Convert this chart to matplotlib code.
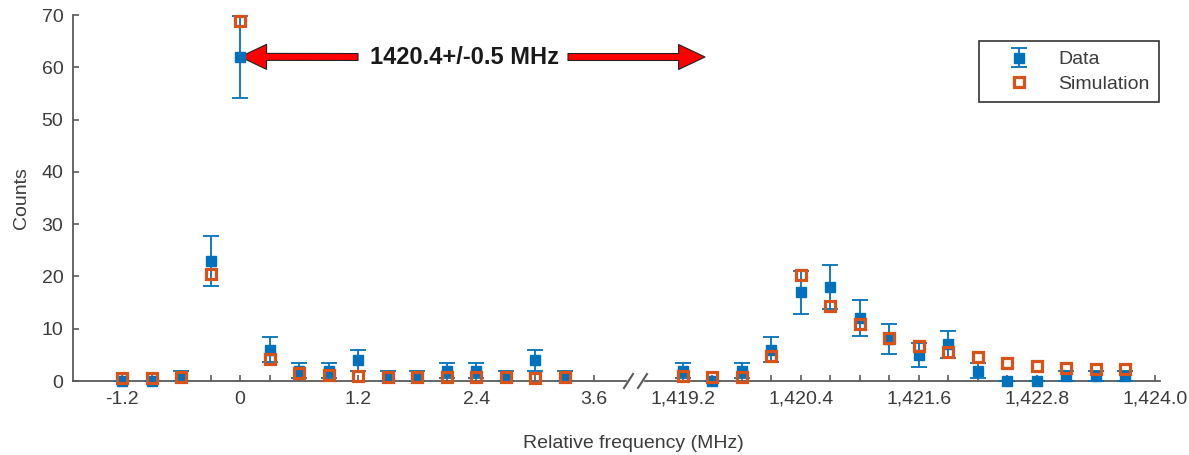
import numpy as np
import matplotlib.pyplot as plt
from matplotlib.lines import Line2D
from matplotlib.patches import FancyArrowPatch
from matplotlib.ticker import FixedLocator

plt.rcParams['font.family'] = ['Liberation Sans', 'DejaVu Sans']
plt.rcParams['font.size'] = 14

# frequency bins (MHz): low band near 0 and the 1420 MHz band
freq_lo = [-1.2, -0.9, -0.6, -0.3, 0.0, 0.3, 0.6, 0.9, 1.2, 1.5, 1.8, 2.1, 2.4, 2.7, 3.0, 3.3]
freq_hi = [1419.2, 1419.5, 1419.8, 1420.1, 1420.4, 1420.7, 1421.0, 1421.3,
           1421.6, 1421.9, 1422.2, 1422.5, 1422.8, 1423.1, 1423.4, 1423.7]

counts_lo = [0, 0, 1, 23, 62, 6, 2, 2, 4, 1, 1, 2, 2, 1, 4, 1]
err_lo = [0, 0, 1, 4.8, 7.9, 2.45, 1.41, 1.41, 2, 1, 1, 1.41, 1.41, 1, 2, 1]
sim_lo = [0.6, 0.6, 0.8, 20.5, 68.8, 4.2, 1.6, 1.1, 0.9, 0.8, 0.8, 0.8, 0.8, 0.7, 0.6, 0.8]

counts_hi = [2, 0, 2, 6, 17, 18, 12, 8, 5, 7, 2, 0, 0, 1, 1, 1]
err_hi = [1.41, 0, 1.41, 2.45, 4.12, 4.24, 3.46, 2.83, 2.24, 2.65, 1.41, 0, 0, 1, 1, 1]
sim_hi = [0.9, 0.8, 0.8, 4.8, 20.3, 14.4, 10.9, 8.3, 6.7, 5.5, 4.5, 3.5, 2.9, 2.5, 2.3, 2.2]

major_lo = [-1.2, 0, 1.2, 2.4, 3.6]
labels_lo = ['-1.2', '0', '1.2', '2.4', '3.6']
major_hi = [1419.2, 1420.4, 1421.6, 1422.8, 1424.0]
labels_hi = ['1,419.2', '1,420.4', '1,421.6', '1,422.8', '1,424.0']
minor_lo = [-1.2, -0.9, -0.6, -0.3, 0, 0.3, 0.6, 0.9, 1.2, 1.5, 1.8, 2.1, 2.4, 2.7, 3.0, 3.3, 3.6]
minor_hi = [1419.2, 1419.5, 1419.8, 1420.1, 1420.4, 1420.7, 1421.0, 1421.3, 1421.6,
            1421.9, 1422.2, 1422.5, 1422.8, 1423.1, 1423.4, 1423.7, 1424.0]
yticks = [0, 10, 20, 30, 40, 50, 60, 70]

BLUE = '#0072BD'
ORANGE = '#D95319'
AXC = '#5a5a5a'
TXT = '#3c3c3c'

W, H = 1189, 455
fig = plt.figure(figsize=(W / 100, H / 100), dpi=100)

def px(x0, x1):
    return x0 / W, (x1 - x0) / W

l1, w1 = px(73, 626)
l2, w2 = px(645, 1160)
bot, hgt = (H - 381) / H, 366 / H
ax1 = fig.add_axes([l1, bot, w1, hgt])
ax2 = fig.add_axes([l2, bot, w2, hgt], sharey=ax1)

def draw(ax, f, c, e, s):
    eb = ax.errorbar(f, c, yerr=e, fmt='s', color=BLUE, ms=6.8, mec=BLUE,
                     elinewidth=1.3, capsize=5.5, capthick=1.3, zorder=3, label='Data')
    eb.lines[0].set_clip_on(False)
    for art in list(eb.lines[1]) + list(eb.lines[2]):
        art.set_clip_on(False)
    sm, = ax.plot(f, s, 's', ms=6.8, mfc='none', mec=ORANGE, mew=2.3,
                  zorder=4, clip_on=False, label='Simulation')
    return eb, sm

eb, sm = draw(ax1, freq_lo, counts_lo, err_lo, sim_lo)
draw(ax2, freq_hi, counts_hi, err_hi, sim_hi)

ax1.set_xlim(-1.7, -1.7 + 553 / 98.33)
ax2.set_xlim(1419.2 - 38 / 98.33, 1419.2 - 38 / 98.33 + 515 / 98.33)
ax1.set_ylim(0, 70)

for ax, maj, lab, mnr in [(ax1, major_lo, labels_lo, minor_lo), (ax2, major_hi, labels_hi, minor_hi)]:
    for side in ['top', 'right', 'left']:
        ax.spines[side].set_visible(False)
    ax.spines['bottom'].set_color(AXC)
    ax.spines['bottom'].set_linewidth(1.3)
    ax.set_xticks(maj)
    ax.set_xticklabels(lab)
    ax.xaxis.set_minor_locator(FixedLocator(mnr))
    ax.tick_params(axis='x', which='both', direction='in', length=4, width=1.2,
                   color=AXC, labelcolor=TXT, pad=7)
    ax.set_facecolor('none')

ax1.spines['left'].set_visible(True)
ax1.spines['left'].set_color(AXC)
ax1.spines['left'].set_linewidth(1.3)
ax1.set_yticks(yticks)
ax1.tick_params(axis='y', direction='in', length=4, width=1.2, color=AXC,
                labelcolor=TXT, pad=7)
ax2.tick_params(axis='y', left=False, labelleft=False)
ax1.set_ylabel('Counts', color=TXT, labelpad=8)

fig.text(633 / W, 1 - 444 / H, 'Relative frequency (MHz)', ha='center', va='center',
         color=TXT)

# axis break marks
for x0 in (624, 638):
    fig.add_artist(Line2D([x0 / W, (x0 + 9) / W], [1 - 388 / H, 1 - 374 / H],
                          color=AXC, lw=1.5))

# band annotation
fig.text(465 / W, 1 - 57 / H, '1420.4+/-0.5 MHz', ha='center', va='center',
         fontsize=17, fontweight='bold', color='#1a1a1a')
arrow = dict(arrowstyle='simple,head_length=19,head_width=18,tail_width=5',
             mutation_scale=1, fc='#ff0000', ec='#222222', lw=0.8,
             shrinkA=0, shrinkB=0)
ax1.annotate('', xy=(0, 62), xycoords='data', xytext=(358, H - 57),
             textcoords='figure pixels', arrowprops=arrow, annotation_clip=False)
fig.add_artist(FancyArrowPatch((568 / W, 1 - 57 / H), (705 / W, 1 - 57 / H),
                               transform=fig.transFigure, **arrow))

leg = ax2.legend([eb, sm], ['Data', 'Simulation'], loc='upper right',
                 bbox_to_anchor=(1159 / W, 1 - 41 / H), bbox_transform=fig.transFigure,
                 borderaxespad=0, fancybox=False, framealpha=1, edgecolor='#333333',
                 borderpad=0.5, labelspacing=0.35, handlelength=3.1, handletextpad=0.45)
leg.get_frame().set_linewidth(1.2)
for t in leg.get_texts():
    t.set_color(TXT)

fig.savefig('out.png', dpi=100)
